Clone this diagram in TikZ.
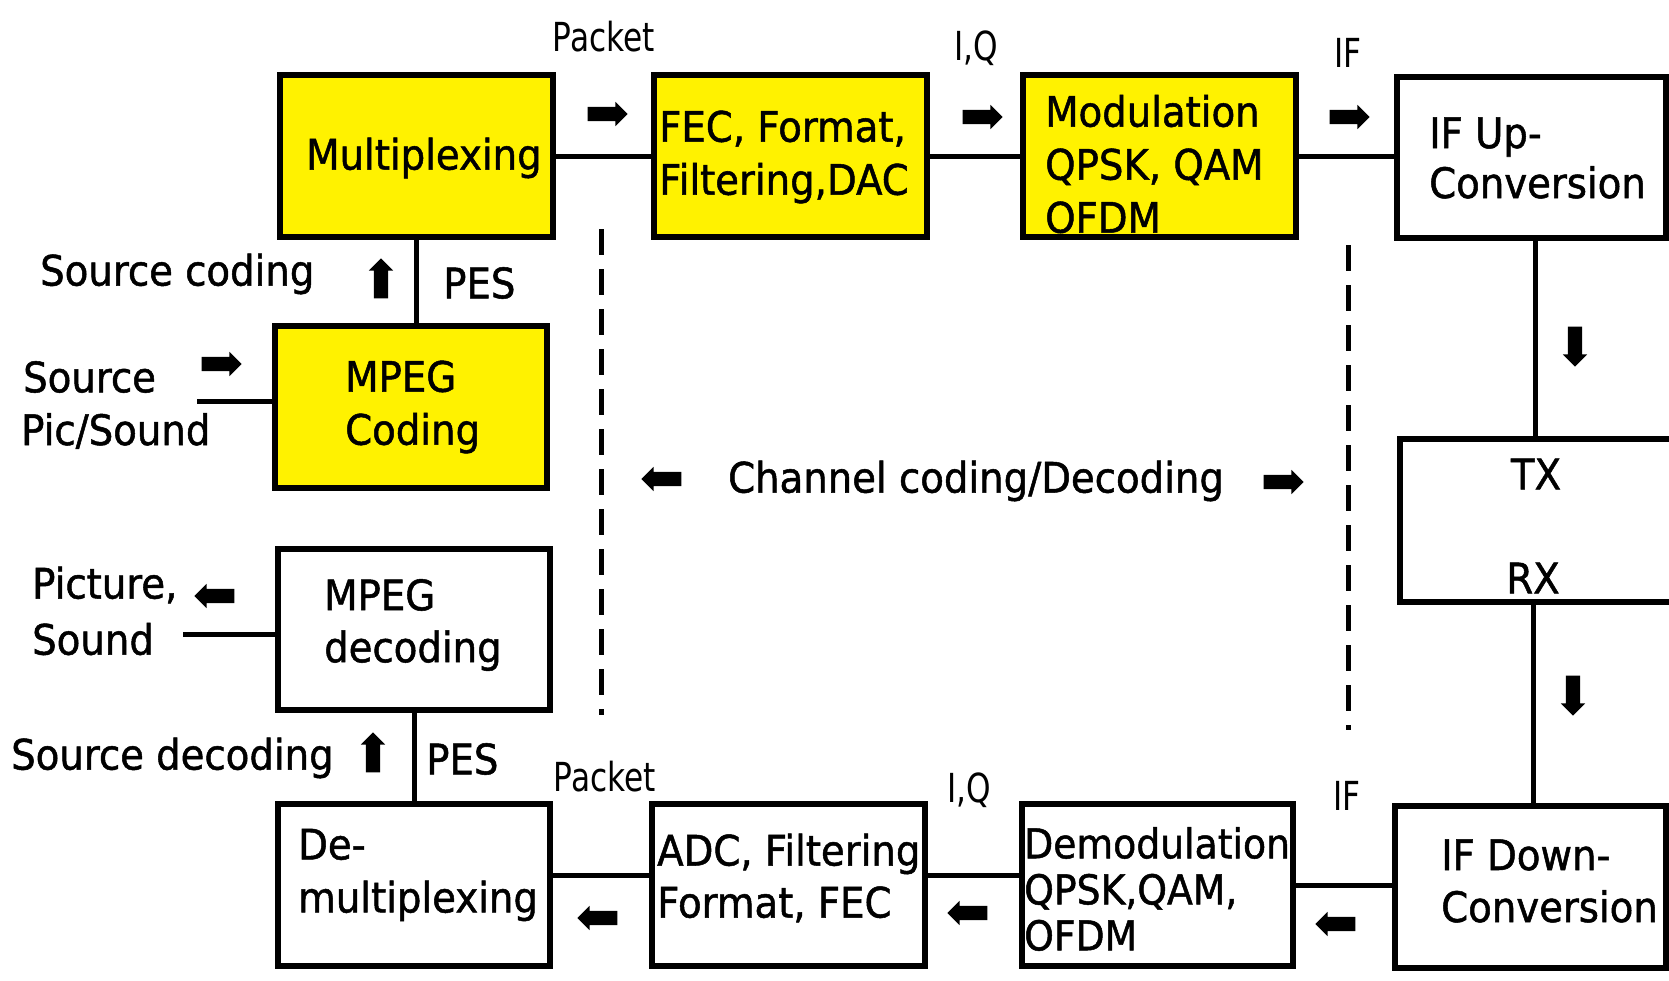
\documentclass[tikz,border=0pt]{standalone}
\usepackage{fontspec}
\setmainfont{DejaVu Sans}[FakeStretch=0.92,FakeBold=1.2]
\newfontfamily\lblfont{DejaVu Sans}[FakeStretch=0.78]
\usetikzlibrary{shapes.arrows,calc}
\definecolor{boxyellow}{RGB}{255,242,0}
\begin{document}
\begin{tikzpicture}[x=1pt,y=-1pt,
  box/.style={draw=black, line width=6pt, inner sep=0pt, outer sep=0pt},
  ybox/.style={box, fill=boxyellow},
  conn/.style={draw=black, line width=5pt},
  dashline/.style={draw=black, line width=5pt, dash pattern=on 26pt off 14pt},
  barrow/.style={single arrow, fill=black, draw=none, inner sep=0pt, outer sep=0pt,
     text width=0pt, text height=7pt, text depth=7pt,
     minimum height=40pt, single arrow head extend=5pt, single arrow tip angle=90},
  txt/.style={inner sep=0pt, anchor=west, align=left, font=\fontsize{42}{53}\selectfont},
  lbl/.style={inner sep=0pt, font=\lblfont\fontsize{40}{44}\selectfont}
]
\useasboundingbox (0,0) rectangle (1669,980);
\clip (0,0) rectangle (1669,980);
\fill[white] (0,0) rectangle (1669,980);

% boxes
\node[ybox, minimum width=273pt, minimum height=162pt] (mux) at (416.5,156) {};
\node[ybox, minimum width=273pt, minimum height=162pt] (fec) at (790.5,156) {};
\node[ybox, minimum width=273pt, minimum height=162pt] (mod) at (1159.5,156) {};
\node[box, minimum width=269pt, minimum height=161pt] (ifup) at (1531.5,157.5) {};
\node[ybox, minimum width=272pt, minimum height=162pt] (mpegc) at (411,407) {};
\node[box, minimum width=272pt, minimum height=161pt] (mpegd) at (414,629.5) {};
\node[box, minimum width=275pt, minimum height=163pt] (txrx) at (1537.5,520.5) {};
\node[box, minimum width=272pt, minimum height=162pt] (demux) at (414,885) {};
\node[box, minimum width=273pt, minimum height=162pt] (adc) at (788.5,885) {};
\node[box, minimum width=271pt, minimum height=162pt] (demod) at (1157.5,885) {};
\node[box, minimum width=271pt, minimum height=162pt] (ifdown) at (1530.5,887) {};

% box texts
\node[txt] (muxt) at (306,158) {Multiplexing};
\node[txt] (fect) at (659,157) {FEC, Format,\\Filtering,DAC};
\node[txt] (modt) at (1045,164) {Modulation\\QPSK, QAM\\OFDM};
\node[txt, font=\fontsize{42}{50}\selectfont] (ifupt) at (1429,158) {IF Up-\\Conversion};
\node[txt] (mpegct) at (345,407) {MPEG\\Coding};
\node[txt, font=\fontsize{42}{52}\selectfont] (mpegdt) at (324,625) {MPEG\\decoding};
\node[txt, anchor=center] (txt) at (1536,474) {TX};
\node[txt, anchor=center] (rxt) at (1533,578) {RX};
\node[txt] (demuxt) at (298,875) {De-\\multiplexing};
\node[txt, font=\fontsize{42}{52}\selectfont] (adct) at (657,878) {ADC, Filtering\\Format, FEC};
\node[txt, font=\fontsize{41}{46}\selectfont] (demodt) at (1024,889) {Demodulation\\QPSK,QAM,\\OFDM};
\node[txt, font=\fontsize{42}{52}\selectfont] (ifdownt) at (1441,881) {IF Down-\\Conversion};

% connectors
\coordinate (upx) at (1535,0);
\coordinate (dnx) at (1533,0);
\coordinate (src) at (197,401);
\coordinate (pic) at (183,634);
\draw[conn] (mux.east) -- (fec.west);
\draw[conn] (fec.east) -- (mod.west);
\draw[conn] (mod.east) -- (mod.east -| ifup.west);
\draw[conn] (ifup.south -| upx) -- (txrx.north -| upx);
\draw[conn] (txrx.south -| dnx) -- (ifdown.north -| dnx);
\draw[conn] (demod.east) -- (demod.east -| ifdown.west);
\draw[conn] ([yshift=10pt]demod.west) -- ([yshift=10pt]adc.east);
\draw[conn] ([yshift=10pt]adc.west) -- ([yshift=10pt]demux.east);
\draw[conn] (demux.north) -- (demux.north |- mpegd.south);
\draw[conn] (mux.south) -- (mux.south |- mpegc.north);
\draw[conn] (src) -- (src -| mpegc.west);
\draw[conn] (pic) -- (pic -| mpegd.west);

% dashed separators
\coordinate (dl1) at (601,229);
\coordinate (dl2) at (601,715);
\coordinate (dr1) at (1348,245);
\coordinate (dr2) at (1348,730);
\draw[dashline] (dl1) -- (dl2);
\draw[dashline] (dr1) -- (dr2);

% block arrows
\node[barrow] (a1) at (604,114) {};
\node[barrow] (a2) at (979,117) {};
\node[barrow] (a3) at (1346,117) {};
\node[barrow, rotate=-90] (a4) at (1575,343) {};
\node[barrow, rotate=-90] (a5) at (1573,692) {};
\node[barrow, rotate=180] (a6) at (1339,924) {};
\node[barrow, rotate=180] (a7) at (971,913) {};
\node[barrow, rotate=180] (a8) at (601,918) {};
\node[barrow, rotate=90] (a9) at (373,756) {};
\node[barrow, rotate=90] (a10) at (381,282) {};
\node[barrow] (a11) at (218,364) {};
\node[barrow, rotate=180] (a12) at (218,596) {};
\node[barrow, rotate=180] (a13) at (665,479) {};
\node[barrow] (a14) at (1280,482) {};

% labels
\node[lbl] (pk1) at (604,37) {Packet};
\node[lbl] (iq1) at (976,48) {I,Q};
\node[lbl] (if1) at (1348,53) {IF};
\node[lbl] (pk2) at (605,777) {Packet};
\node[lbl] (iq2) at (969,790) {I,Q};
\node[lbl] (if2) at (1347,796) {IF};
\node[txt] (sc) at (40,274) {Source coding};
\node[txt] (pes1) at (443,283) {PES};
\node[txt] (srcl) at (23,377) {Source};
\node[txt] (picsnd) at (21,431) {Pic/Sound};
\node[txt] (pictl) at (32,585) {Picture,};
\node[txt] (sndl) at (32,639) {Sound};
\node[txt] (sd) at (11,758) {Source decoding};
\node[txt] (pes2) at (426,759) {PES};
\node[txt, anchor=center] (ch) at (976,481) {Channel coding/Decoding};
\end{tikzpicture}
\end{document}
